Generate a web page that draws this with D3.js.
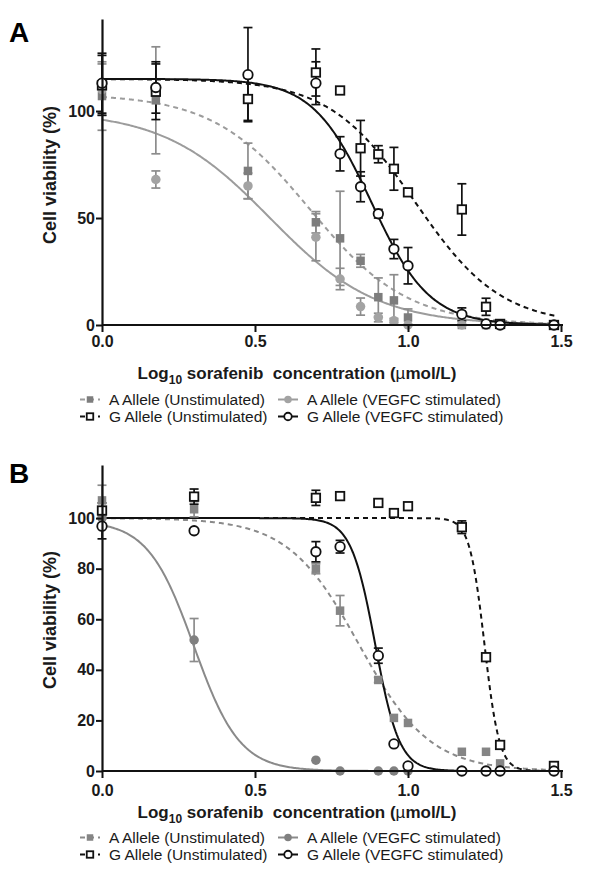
<!DOCTYPE html>
<html>
<head>
<meta charset="utf-8">
<script src="https://cdn.jsdelivr.net/npm/d3@7"></script>
<style>
  body { margin: 0; background: #fff; }
  text { font-family: "Liberation Sans", Arial, Helvetica, sans-serif; }
</style>
</head>
<body>
<div id="chart"></div>
<script>
// ---- data ----
var seriesNames = ["A Allele (Unstimulated)", "A Allele (VEGFC stimulated)",
                   "G Allele (Unstimulated)", "G Allele (VEGFC stimulated)"];

// panel A : log10 concentrations
var xA = [0, 0.176, 0.477, 0.699, 0.778, 0.845, 0.903, 0.954, 1.0, 1.176, 1.255, 1.301, 1.477];
var aUnstimA = [107, 105, 72, 48, 40.5, 30, 13, 11.5, 3.5, 0, 0, 0, 0];
var aUnstimErrA = [16, 25, 13, 5, 22, 3, 9, 12, 4, 0, 0, 0, 0];
var aStimA = [110, 68, 65, 41, 21.5, 8.6, 3.5, 2, 0, 0, 0, 0, 0];
var aStimErrA = [12, 4, 6, 11, 5, 4, 2, 1, 0, 0, 0, 0, 0];
var gUnstimA = [112, 109, 105.6, 118, 109.6, 82.6, 79.8, 73, 62, 54, 8.5, 0.5, 0];
var gUnstimErrA = [14, 13, 10, 11, 0, 13, 4, 10, 0, 12, 4, 0, 0];
var gStimA = [113, 111, 117, 113, 80, 64.6, 52, 35.5, 27.7, 5, 0.5, 0, 0];
var gStimErrA = [14, 12, 22, 10, 8, 7, 2, 4.5, 8.5, 3, 0, 0, 0];
// fitted curves (top, logIC50, hill) in series order
var fitTopA = [108, 100, 115, 115];
var fitLogIC50A = [0.68, 0.549, 1.023, 0.88];
var fitHillA = [2.74, 2.5, 3.09, 4.56];
var yTicksA = [0, 50, 100];

// panel B
var xB = [0, 0.301, 0.699, 0.778, 0.903, 0.954, 1.0, 1.176, 1.255, 1.301, 1.477];
var aUnstimB = [107, 103.5, 80, 63.4, 36, 21, 19, 7.6, 7.6, 3, 0];
var aUnstimErrB = [6, 3, 2, 6, 1, 0, 0, 0, 0, 0, 0];
var aStimB = [100, 51.8, 4.3, 0, 0, 0, 0, 0, 0, 0, 0];
var aStimErrB = [2, 8.5, 0, 0, 0, 0, 0, 0, 0, 0, 0];
var gUnstimB = [103, 108.5, 108, 108.7, 106, 102, 104.7, 96.4, 45, 10.3, 2];
var gUnstimErrB = [3, 3, 3, 0, 0, 0, 0, 2.5, 0, 0, 0];
var gStimB = [96.8, 95, 86.7, 88.7, 45.6, 10.7, 2, 0, 0, 0, 0];
var gStimErrB = [5, 0, 4, 2.5, 3, 0, 0, 0, 0, 0, 0];
var fitTopB = [100, 99, 100, 100];
var fitLogIC50B = [0.84, 0.30, 1.25, 0.893];
var fitHillB = [3.75, 5.8, 17.8, 11];
var yTicksB = [0, 20, 40, 60, 80, 100];

var xTicks = [0, 0.5, 1.0, 1.5];

// ---- canvas ----
var width = 614, height = 888;
var svg = d3.select("#chart").append("svg")
  .attr("width", width).attr("height", height);

// style per series: marker, colour, dashed
function styles(panel) {
  var grayLine = panel == "A" ? "#9c9c9c" : "#8a8a8a";
  return [
    { shape: "square", fill: panel == "A" ? "#7d7d7d" : "#858585", stroke: "none", line: grayLine, dash: "5,4" },
    { shape: "circle", fill: panel == "A" ? "#a3a3a3" : "#808080", stroke: "none", line: grayLine, dash: null },
    { shape: "square", fill: "#fff", stroke: "#111", line: "#111", dash: "5,4" },
    { shape: "circle", fill: "#fff", stroke: "#111", line: "#111", dash: null }
  ];
}

function drawMarker(g, shape, cx, cy, st, size) {
  if (shape == "square") {
    g.append("rect").attr("x", cx - size / 2).attr("y", cy - size / 2)
      .attr("width", size).attr("height", size)
      .attr("fill", st.fill).attr("stroke", st.stroke).attr("stroke-width", 1.8);
  } else {
    g.append("circle").attr("cx", cx).attr("cy", cy).attr("r", size / 2 + 0.5)
      .attr("fill", st.fill).attr("stroke", st.stroke).attr("stroke-width", 1.8);
  }
}

function drawPanel(cfg) {
  var x = d3.scaleLinear().domain([0, 1.5]).range([102, 561]);
  var y = d3.scaleLinear().domain([0, cfg.yMax]).range([cfg.bottom, cfg.bottom - 306]);
  var st = styles(cfg.letter);
  var g = svg.append("g");

  // panel letter
  svg.append("text").attr("x", 9).attr("y", cfg.letterY)
    .attr("font-size", 28).attr("font-weight", "bold").text(cfg.letter);

  // fitted curves
  var grid = d3.range(0, 1.4801, 0.004);
  for (var i = 0; i < 4; i++) {
    var top = cfg.fitTop[i], c = cfg.fitC[i], h = cfg.fitH[i];
    var line = d3.line()
      .x(function(d) { return x(d); })
      .y(function(d) { return y(top / (1 + Math.pow(10, (d - c) * h))); });
    g.append("path").datum(grid).attr("d", line)
      .attr("fill", "none").attr("stroke", st[i].line).attr("stroke-width", 2)
      .attr("stroke-dasharray", st[i].dash);
  }

  // error bars (gray series first)
  for (var s = 0; s < 4; s++) {
    var vals = cfg.vals[s], errs = cfg.errs[s];
    var barColor = s < 2 ? "#8c8c8c" : "#111";
    cfg.xs.forEach(function(xv, k) {
      if (errs[k] > 0) {
        var px = x(xv), y1 = y(vals[k] + errs[k]), y2 = y(Math.max(vals[k] - errs[k], 0));
        g.append("line").attr("x1", px).attr("x2", px).attr("y1", y1).attr("y2", y2)
          .attr("stroke", barColor).attr("stroke-width", 1.7);
        [y1, y2].forEach(function(yy) {
          g.append("line").attr("x1", px - 4.5).attr("x2", px + 4.5).attr("y1", yy).attr("y2", yy)
            .attr("stroke", barColor).attr("stroke-width", 1.7);
        });
      }
    });
  }
  // markers
  for (var s2 = 0; s2 < 4; s2++) {
    var vv = cfg.vals[s2];
    cfg.xs.forEach(function(xv, k) {
      drawMarker(g, st[s2].shape, x(xv), y(vv[k]), st[s2], 8.5);
    });
  }

  // axes
  var yAxis = d3.axisLeft(y).tickValues(cfg.yTicks).tickSize(6).tickSizeOuter(0).tickPadding(1)
    .tickFormat(d3.format("d"));
  var yg = svg.append("g").attr("transform", "translate(102,0)").call(yAxis);
  var xAxis = d3.axisBottom(x).tickValues(xTicks).tickSize(7).tickSizeOuter(0).tickPadding(cfg.xPad)
    .tickFormat(d3.format(".1f"));
  var xg = svg.append("g").attr("transform", "translate(0," + cfg.bottom + ")").call(xAxis);
  [yg, xg].forEach(function(a) {
    a.select(".domain").attr("stroke", "#111").attr("stroke-width", 2.2);
    a.selectAll(".tick line").attr("stroke", "#111").attr("stroke-width", 2);
    a.selectAll("text").attr("font-size", 16).attr("font-weight", "bold")
      .attr("fill", "#1a1a1a").style("font-family", "'Liberation Sans', Arial, sans-serif");
  });
  xg.select(".domain").attr("d", "M102,0H563");

  // y title
  svg.append("text").attr("transform", "translate(56," + cfg.yTitleY + ")rotate(-90)")
    .attr("text-anchor", "middle").attr("font-size", 18).attr("font-weight", "bold")
    .attr("fill", "#1a1a1a").text("Cell viability (%)");

  // x title
  var xt = svg.append("text").attr("x", 297).attr("y", cfg.xTitleY)
    .attr("text-anchor", "middle").attr("font-size", 17).attr("font-weight", "bold")
    .attr("fill", "#1a1a1a").style("white-space", "pre");
  xt.append("tspan").text("Log");
  xt.append("tspan").attr("font-size", 12).attr("dy", 5).text("10");
  xt.append("tspan").attr("dy", -5).text(" sorafenib  concentration (");
  xt.append("tspan").attr("font-weight", "normal").text("\u00b5");
  xt.append("tspan").text("mol/L)");

  // legend: column 0 unstimulated, column 1 stimulated; row 0 A, row 1 G
  var colX = [90, 288], rowY = cfg.legendY;
  for (var j = 0; j < 4; j++) {
    var col = j % 2, row = j < 2 ? 0 : 1;
    var lx = colX[col], ly = rowY[row] - 5.5;
    var lg = svg.append("g");
    lg.append("line").attr("x1", lx - 10).attr("x2", lx + 10).attr("y1", ly).attr("y2", ly)
      .attr("stroke", st[j].line).attr("stroke-width", 2)
      .attr("stroke-dasharray", st[j].dash);
    drawMarker(lg, st[j].shape, lx, ly, st[j], 6.5);
    svg.append("text").attr("x", lx + 19).attr("y", rowY[row])
      .attr("font-size", 15.5).attr("fill", "#1a1a1a").text(seriesNames[j]);
  }
}

drawPanel({
  letter: "A", letterY: 42, bottom: 325, yMax: 143, yTicks: yTicksA, xPad: 4,
  xs: xA,
  vals: [aUnstimA, aStimA, gUnstimA, gStimA],
  errs: [aUnstimErrA, aStimErrA, gUnstimErrA, gStimErrA],
  fitTop: fitTopA, fitC: fitLogIC50A, fitH: fitHillA,
  yTitleY: 175, xTitleY: 379, legendY: [405, 422]
});
drawPanel({
  letter: "B", letterY: 483, bottom: 771, yMax: 121, yTicks: yTicksB, xPad: 6.5,
  xs: xB,
  vals: [aUnstimB, aStimB, gUnstimB, gStimB],
  errs: [aUnstimErrB, aStimErrB, gUnstimErrB, gStimErrB],
  fitTop: fitTopB, fitC: fitLogIC50B, fitH: fitHillB,
  yTitleY: 620, xTitleY: 818, legendY: [843, 860]
});
</script>
</body>
</html>
